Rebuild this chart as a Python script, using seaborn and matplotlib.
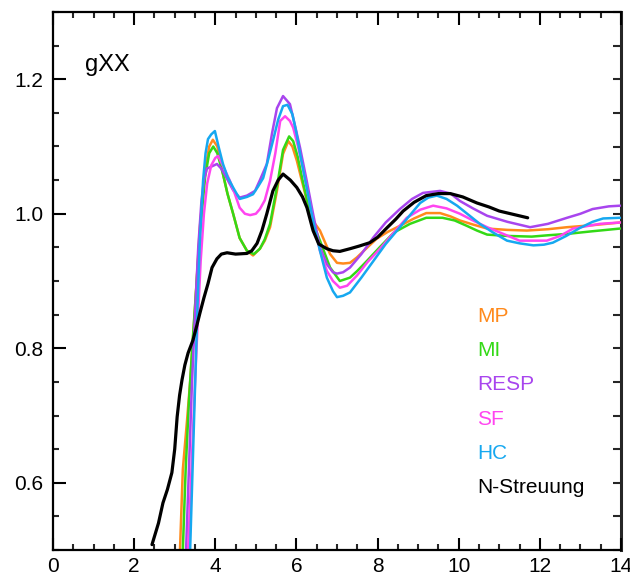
import numpy as np
import pandas as pd
import matplotlib
matplotlib.use("Agg")
import matplotlib.pyplot as plt
from matplotlib.ticker import MultipleLocator
import seaborn as sns

# ---------------- data ----------------
mp_x = [3.13, 3.2, 3.3, 3.38, 3.5, 3.62, 3.75, 3.85, 3.94, 4.05, 4.19, 4.3, 4.44, 4.6, 4.78, 4.93,
        5.1, 5.22, 5.35, 5.52, 5.67, 5.8, 5.9, 6.01, 6.13, 6.26, 6.4, 6.58, 6.83, 7.0, 7.15, 7.32,
        7.49, 7.75, 7.98, 8.25, 8.55, 8.9, 9.2, 9.54, 9.8, 10.03, 10.35, 10.7, 11.2, 11.68, 12.2,
        12.67, 13.3, 13.98]
mp_y = [0.50, 0.62, 0.69, 0.75, 0.86, 0.98, 1.065, 1.10, 1.11, 1.10, 1.059, 1.03, 1.00, 0.964,
        0.945, 0.938, 0.948, 0.96, 0.98, 1.034, 1.089, 1.108, 1.10, 1.079, 1.05, 1.019, 0.99, 0.98 - 0.005,
        0.94, 0.927, 0.926, 0.927, 0.935, 0.95, 0.963, 0.973, 0.982, 0.993, 1.001, 1.001, 0.996, 0.99,
        0.984, 0.978, 0.976, 0.975, 0.977, 0.98, 0.983, 0.987]

mi_x = [3.2, 3.27, 3.35, 3.43, 3.52, 3.62, 3.75, 3.85, 3.95, 4.05, 4.19, 4.3, 4.44, 4.6, 4.78, 4.95,
        5.1, 5.22, 5.35, 5.52, 5.67, 5.82, 5.92, 6.03, 6.15, 6.3, 6.45, 6.58, 6.83, 7.07, 7.32, 7.5,
        7.74, 8.05, 8.4, 8.8, 9.2, 9.6, 9.9, 10.2, 10.45, 10.7, 11.2, 11.8, 12.2, 12.67, 13.3, 13.98]
mi_y = [0.50, 0.62, 0.72, 0.80, 0.88, 0.97, 1.055, 1.09, 1.10, 1.09, 1.059, 1.03, 1.00, 0.964,
        0.945, 0.94, 0.948, 0.962, 0.985, 1.04, 1.095, 1.115, 1.108, 1.085, 1.05, 1.01, 0.98, 0.96,
        0.92, 0.90, 0.905, 0.915, 0.93, 0.95, 0.972, 0.985, 0.994, 0.994, 0.99, 0.982, 0.975, 0.969,
        0.967, 0.966, 0.968, 0.970, 0.974, 0.978]

resp_x = [3.28, 3.35, 3.42, 3.5, 3.58, 3.66, 3.72, 3.79, 3.9, 4.04, 4.15, 4.28, 4.44, 4.6, 4.78,
          4.98, 5.1, 5.27, 5.4, 5.52, 5.67, 5.84, 5.95, 6.09, 6.25, 6.41, 6.58, 6.75, 6.9, 7.0, 7.15,
          7.32, 7.6, 7.9, 8.2, 8.55, 8.85, 9.12, 9.54, 9.8, 10.03, 10.35, 10.7, 11.2, 11.76, 12.2,
          12.67, 13.0, 13.3, 13.7, 13.98]
resp_y = [0.50, 0.62, 0.74, 0.85, 0.95, 1.02, 1.05, 1.067, 1.07, 1.074, 1.067, 1.053, 1.035, 1.024,
          1.027, 1.034, 1.05, 1.074, 1.12, 1.157, 1.175, 1.163, 1.135, 1.098, 1.05, 1.0, 0.95, 0.925,
          0.913, 0.911, 0.913, 0.92, 0.94, 0.965, 0.987, 1.007, 1.022, 1.031, 1.034, 1.03, 1.019, 1.008,
          0.997, 0.988, 0.98, 0.985, 0.994, 1.0, 1.007, 1.011, 1.012]

sf_x = [3.33, 3.4, 3.48, 3.56, 3.64, 3.72, 3.8, 3.9, 4.0, 4.07, 4.2, 4.36, 4.48, 4.6, 4.73, 4.86,
        5.0, 5.1, 5.22, 5.35, 5.48, 5.6, 5.72, 5.84, 5.92, 6.04, 6.16, 6.3, 6.41, 6.58, 6.75, 6.9,
        7.07, 7.25, 7.49, 7.75, 8.06, 8.4, 8.72, 9.05, 9.37, 9.7, 10.03, 10.35, 10.7, 11.1, 11.5,
        12.17, 12.5, 12.82, 13.48, 13.98]
sf_y = [0.50, 0.60, 0.72, 0.83, 0.93, 1.0, 1.045, 1.072, 1.083, 1.086, 1.07, 1.049, 1.03, 1.009,
        1.0, 0.998, 1.0, 1.007, 1.02, 1.049, 1.09, 1.138, 1.145, 1.138, 1.128, 1.1, 1.068, 1.025, 0.99,
        0.945, 0.915, 0.9, 0.89, 0.893, 0.908, 0.928, 0.948, 0.972, 0.994, 1.006, 1.012, 1.008, 1.0,
        0.99, 0.98, 0.97, 0.96, 0.96, 0.967, 0.978, 0.985, 0.987]

hc_x = [3.38, 3.44, 3.5, 3.56, 3.62, 3.7, 3.76, 3.82, 3.9, 3.99, 4.08, 4.19, 4.3, 4.44, 4.6, 4.78,
        4.93, 5.05, 5.18, 5.3, 5.42, 5.55, 5.67, 5.78, 5.9, 6.0, 6.09, 6.25, 6.41, 6.58, 6.75, 6.9,
        7.0, 7.15, 7.32, 7.6, 7.9, 8.2, 8.55, 8.8, 9.05, 9.25, 9.46, 9.7, 9.96, 10.25, 10.52, 10.85,
        11.19, 11.5, 11.84, 12.1, 12.32, 12.65, 12.99, 13.3, 13.56, 13.98]
hc_y = [0.50, 0.62, 0.74, 0.86, 0.96, 1.05, 1.09, 1.111, 1.118, 1.123, 1.1, 1.074, 1.055, 1.039,
        1.022, 1.025, 1.029, 1.04, 1.053, 1.08, 1.108, 1.14, 1.16, 1.162, 1.148, 1.12, 1.089, 1.04,
        0.99, 0.945, 0.905, 0.885, 0.876, 0.878, 0.883, 0.905, 0.93, 0.955, 0.98, 0.998, 1.016, 1.024,
        1.027, 1.022, 1.012, 0.998, 0.985, 0.972, 0.96, 0.956, 0.953, 0.954, 0.957, 0.967, 0.979,
        0.988, 0.993, 0.994]

ns_x = [2.44, 2.6, 2.71, 2.82, 2.93, 3.0, 3.06, 3.12, 3.18, 3.25, 3.33, 3.45, 3.55, 3.62, 3.72, 3.82,
        3.92, 4.04, 4.15, 4.29, 4.5, 4.78, 4.9, 5.03, 5.15, 5.27, 5.42, 5.55, 5.67, 5.85, 6.01, 6.15,
        6.26, 6.41, 6.55, 6.75, 6.9, 7.07, 7.32, 7.55, 7.81, 8.0, 8.23, 8.45, 8.63, 8.9, 9.2, 9.5,
        9.79, 10.1, 10.45, 10.75, 11.0, 11.35, 11.7]
ns_y = [0.508, 0.54, 0.57, 0.59, 0.615, 0.65, 0.698, 0.73, 0.753, 0.775, 0.793, 0.812, 0.835, 0.852,
        0.875, 0.896, 0.92, 0.933, 0.94, 0.942, 0.940, 0.941, 0.945, 0.956, 0.975, 1.0, 1.034, 1.05,
        1.059, 1.05, 1.039, 1.025, 1.009, 0.975, 0.955, 0.948, 0.945, 0.944, 0.948, 0.952, 0.957,
        0.965, 0.979, 0.992, 1.004, 1.017, 1.027, 1.03, 1.03, 1.025, 1.016, 1.01, 1.004, 0.999, 0.994]

labels = ["MP", "MI", "RESP", "SF", "HC", "N-Streuung"]
colors = ["#FF8A1C", "#33D916", "#A845EE", "#FF45F0", "#16A8F0", "#000000"]
xs = [mp_x, mi_x, resp_x, sf_x, hc_x, ns_x]
ys = [mp_y, mi_y, resp_y, sf_y, hc_y, ns_y]

x_ticks = [0, 2, 4, 6, 8, 10, 12, 14]
y_ticks = [0.6, 0.8, 1.0, 1.2]
panel_label = "gXX"

# ---------------- plotting ----------------
sns.set_style("ticks")
plt.rcParams["font.family"] = ["Liberation Sans", "DejaVu Sans"]

fig = plt.figure(figsize=(6.3, 5.76), dpi=100)
ax = fig.add_axes([53 / 630, 26 / 576, 568 / 630, 538 / 576])

frames = []
for lab, x, y in zip(labels, xs, ys):
    frames.append(pd.DataFrame({"r": x, "g": y, "series": lab}))
df = pd.concat(frames, ignore_index=True)
palette = dict(zip(labels, colors))

for lab in labels:
    sub = df[df["series"] == lab]
    sns.lineplot(data=sub, x="r", y="g", color=palette[lab], ax=ax, sort=False,
                 estimator=None, linewidth=2.3 if lab == "N-Streuung" else 1.8,
                 legend=False, zorder=3 if lab == "N-Streuung" else 2)

ax.set_xlim(0, 14)
ax.set_ylim(0.5, 1.3)
ax.set_xticks(x_ticks)
ax.set_yticks(y_ticks)
ax.set_yticklabels([f"{v:.1f}" for v in y_ticks])
ax.xaxis.set_minor_locator(MultipleLocator(0.5))
ax.yaxis.set_minor_locator(MultipleLocator(0.05))
ax.set_xlabel("")
ax.set_ylabel("")

ax.tick_params(axis="both", which="major", direction="in", length=9, width=1.5,
               labelsize=15, colors="black", top=True, right=False)
ax.tick_params(axis="both", which="minor", direction="in", length=4.5, width=1.5,
               top=True, right=False)
ax.tick_params(axis="y", which="major", pad=7)
ax.tick_params(axis="x", which="major", pad=5)

sec = ax.secondary_yaxis("right")
sec.set_yticks(y_ticks)
sec.yaxis.set_minor_locator(MultipleLocator(0.05))
sec.tick_params(which="both", direction="in", length=6, width=1.5, labelright=False)
sec.spines["right"].set_linewidth(2.2)

for s in ["left", "bottom", "top"]:
    ax.spines[s].set_visible(True)
    ax.spines[s].set_linewidth(1.6)
    ax.spines[s].set_color("black")
ax.spines["right"].set_visible(False)

ax.text(0.056, 0.890, panel_label, transform=ax.transAxes, fontsize=17,
        ha="left", va="baseline", color="black")

for i, (lab, c) in enumerate(zip(labels, colors)):
    ax.text(0.7465, 0.4238 - i * 0.0636, lab, transform=ax.transAxes, fontsize=15,
            ha="left", va="baseline", color=c)

fig.savefig("out.png", dpi=100)
